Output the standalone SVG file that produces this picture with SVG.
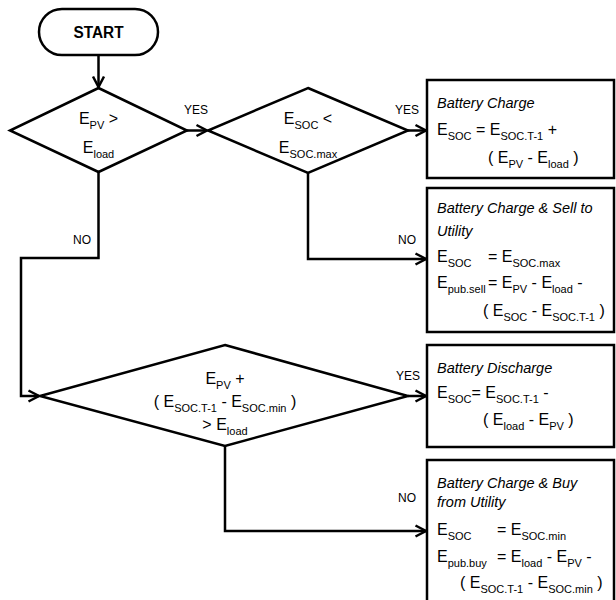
<svg xmlns="http://www.w3.org/2000/svg" width="616" height="600" viewBox="0 0 616 600">
<style>
.sh{fill:#fff;stroke:#000;stroke-width:2.5;stroke-linejoin:miter}
.ln{fill:none;stroke:#000;stroke-width:2.5}
.t{font-family:"Liberation Sans",Arial,sans-serif;font-size:16px;fill:#000}
.m{text-anchor:middle}
.s{font-size:11px}
.i{font-style:italic;font-size:14.5px}
.lbl{font-family:"Liberation Sans",Arial,sans-serif;font-size:12px;fill:#000;text-anchor:middle}
</style>
<defs>
<marker id="ar" markerUnits="userSpaceOnUse" markerWidth="16" markerHeight="16" refX="12" refY="7" orient="auto" overflow="visible">
<path d="M1.5,1.5 L12,7 L1.5,12.5" fill="none" stroke="#000" stroke-width="2.5"/>
</marker>
</defs>
<rect width="616" height="600" fill="#fff"/>

<g id="connectors">
<path class="ln" d="M98.5,55 V87" marker-end="url(#ar)"/>
<path class="ln" d="M187,130.5 H207" marker-end="url(#ar)"/>
<path class="ln" d="M408,130.5 H426" marker-end="url(#ar)"/>
<path class="ln" d="M98.5,172 V258 H21 V396 H39" marker-end="url(#ar)"/>
<path class="ln" d="M308,173 V259 H426" marker-end="url(#ar)"/>
<path class="ln" d="M408,396 H426" marker-end="url(#ar)"/>
<path class="ln" d="M225,446 V531 H426" marker-end="url(#ar)"/>
<text class="lbl" x="196" y="114">YES</text>
<text class="lbl" x="407" y="114">YES</text>
<text class="lbl" x="82" y="244">NO</text>
<text class="lbl" x="407" y="244">NO</text>
<text class="lbl" x="408" y="380">YES</text>
<text class="lbl" x="407" y="502">NO</text>
</g>

<g id="start">
<rect class="sh" x="39" y="9" width="119" height="46" rx="23" ry="23"/>
<text class="t m" x="98.5" y="38" font-weight="bold" font-size="17" textLength="50" lengthAdjust="spacingAndGlyphs">START</text>
</g>

<g id="d1">
<polygon class="sh" points="98.5,88 187,130.5 98.5,172 10,130.5"/>
<text class="t m" x="98.5" y="124">E<tspan class="s" dy="4.5">PV</tspan><tspan dy="-4.5"> &gt;</tspan></text>
<text class="t m" x="98.5" y="153">E<tspan class="s" dy="4.5">load</tspan></text>
</g>

<g id="d2">
<polygon class="sh" points="308,88 408,130.5 308,173 208,130.5"/>
<text class="t m" x="308" y="124">E<tspan class="s" dy="4.5">SOC</tspan><tspan dy="-4.5"> &lt;</tspan></text>
<text class="t m" x="308" y="153">E<tspan class="s" dy="4.5">SOC.max</tspan></text>
</g>

<g id="d3">
<polygon class="sh" points="225,345 408,396 225,446 40,396"/>
<text class="t m" x="225" y="384">E<tspan class="s" dy="4.5">PV</tspan><tspan dy="-4.5"> +</tspan></text>
<text class="t m" x="225" y="407">( E<tspan class="s" dy="4.5">SOC.T-1</tspan><tspan dy="-4.5"> - E</tspan><tspan class="s" dy="4.5">SOC.min</tspan><tspan dy="-4.5"> )</tspan></text>
<text class="t m" x="225" y="430">&gt; E<tspan class="s" dy="4.5">load</tspan></text>
</g>

<g id="b1">
<rect class="sh" x="427" y="80" width="187" height="98"/>
<text class="t i" x="437" y="108">Battery Charge</text>
<text class="t" x="437" y="135">E<tspan class="s" dy="4.5">SOC</tspan><tspan dy="-4.5"> = E</tspan><tspan class="s" dy="4.5">SOC.T-1</tspan><tspan dy="-4.5"> +</tspan></text>
<text class="t" x="488" y="163">( E<tspan class="s" dy="4.5">PV</tspan><tspan dy="-4.5"> - E</tspan><tspan class="s" dy="4.5">load</tspan><tspan dy="-4.5"> )</tspan></text>
</g>

<g id="b2">
<rect class="sh" x="427" y="188" width="187" height="144"/>
<text class="t i" x="437" y="213">Battery Charge &amp; Sell to</text>
<text class="t i" x="437" y="236">Utility</text>
<text class="t" x="437" y="262">E<tspan class="s" dy="4.5">SOC</tspan><tspan x="488" dy="-4.5">= E</tspan><tspan class="s" dy="4.5">SOC.max</tspan></text>
<text class="t" x="437" y="288">E<tspan class="s" dy="4.5">pub.sell</tspan><tspan x="488" dy="-4.5">= E</tspan><tspan class="s" dy="4.5">PV</tspan><tspan dy="-4.5"> - E</tspan><tspan class="s" dy="4.5">load</tspan><tspan dy="-4.5"> -</tspan></text>
<text class="t" x="483" y="316">( E<tspan class="s" dy="4.5">SOC</tspan><tspan dy="-4.5"> - E</tspan><tspan class="s" dy="4.5">SOC.T-1</tspan><tspan dy="-4.5"> )</tspan></text>
</g>

<g id="b3">
<rect class="sh" x="427" y="345" width="187" height="102"/>
<text class="t i" x="437" y="373">Battery Discharge</text>
<text class="t" x="437" y="398">E<tspan class="s" dy="4.5">SOC</tspan><tspan dy="-4.5">= E</tspan><tspan class="s" dy="4.5">SOC.T-1</tspan><tspan dy="-4.5"> -</tspan></text>
<text class="t" x="483" y="425">( E<tspan class="s" dy="4.5">load</tspan><tspan dy="-4.5"> - E</tspan><tspan class="s" dy="4.5">PV</tspan><tspan dy="-4.5"> )</tspan></text>
</g>

<g id="b4">
<rect class="sh" x="427" y="460" width="187" height="144"/>
<text class="t i" x="437" y="488">Battery Charge &amp; Buy</text>
<text class="t i" x="437" y="507">from Utility</text>
<text class="t" x="437" y="535">E<tspan class="s" dy="4.5">SOC</tspan><tspan x="497" dy="-4.5">= E</tspan><tspan class="s" dy="4.5">SOC.min</tspan></text>
<text class="t" x="437" y="562">E<tspan class="s" dy="4.5">pub.buy</tspan><tspan x="497" dy="-4.5">= E</tspan><tspan class="s" dy="4.5">load</tspan><tspan dy="-4.5"> - E</tspan><tspan class="s" dy="4.5">PV</tspan><tspan dy="-4.5"> -</tspan></text>
<text class="t" x="460" y="588">( E<tspan class="s" dy="4.5">SOC.T-1</tspan><tspan dy="-4.5"> - E</tspan><tspan class="s" dy="4.5">SOC.min</tspan><tspan dy="-4.5"> )</tspan></text>
</g>
</svg>
